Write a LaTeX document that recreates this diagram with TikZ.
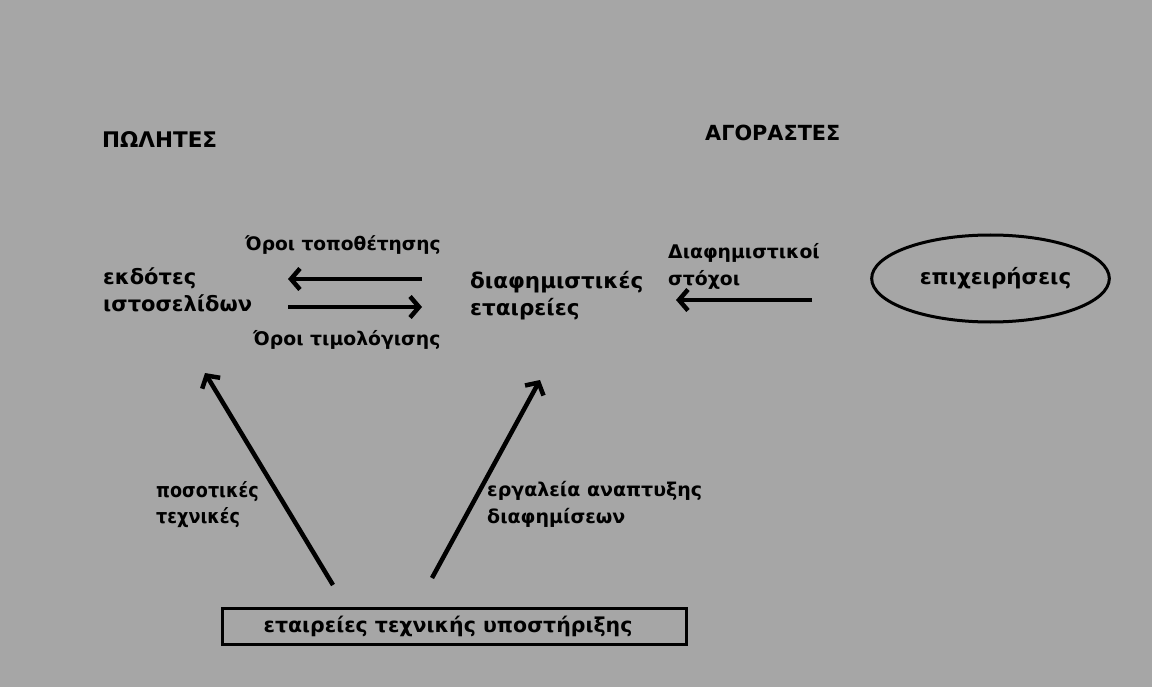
\documentclass[tikz,border=0pt]{standalone}
\usepackage{fontspec}
\setmainfont{DejaVu Sans}
\newfontfamily\narrowfont{DejaVu Sans}[FakeStretch=0.88]
\usetikzlibrary{arrows.meta,shapes.geometric}
\definecolor{bggray}{HTML}{A6A6A6}
\tikzset{
  >={Straight Barb[length=9pt,width=21pt]},
  txt/.style={font=\fontsize{#1}{27}\selectfont\bfseries},
  txt/.default=20,
  lbl/.style={txt=#1,anchor=west,align=left,inner sep=0pt},
  lbl/.default=20,
  narrow/.style={anchor=west,align=left,inner sep=0pt,font=\fontsize{20}{26}\narrowfont\bfseries},
  arr/.style={->,line width=4.5pt}
}

\begin{document}
\begin{tikzpicture}[x=1pt,y=-1pt]
      \fill[bggray] (0,0) rectangle (1152,687);
      % headings
      \node[lbl=21.5] (sell) at (102,140) {ΠΩΛΗΤΕΣ};
      \node[lbl=20.8] (buy) at (705,133) {ΑΓΟΡΑΣΤΕΣ};
      % upper row
      \node[lbl=21] (pub) at (103,290) {εκδότες\\ιστοσελίδων};
      \node[lbl=21.5] (adv) at (470,296) {διαφημιστικές\\εταιρείες};
      \node[lbl=18.6] (place) at (245,245) {Όροι τοποθέτησης};
      \node[lbl=18.8] (price) at (253,340) {Όροι τιμολόγισης};
      \node[lbl=18.8] (goal) at (668,266) {Διαφημιστικοί\\στόχοι};
      \node[txt=21.4,draw,ellipse,line width=3pt,minimum width=237pt,minimum height=87pt] (firms) at (990.5,278.5) {\hspace*{10pt}επιχειρήσεις};
      % lower part
      \node[txt=20.5,draw,line width=3pt,minimum width=464pt,minimum height=36pt,inner sep=0pt] (tech) at (454,626) {εταιρείες τεχνικής υποστήριξης\hspace*{12pt}};
      \node[narrow] (quant) at (156,505) {ποσοτικές\\τεχνικές};
      \node[lbl=19] (tools) at (487,504) {εργαλεία αναπτυξης\\διαφημίσεων};
      % arrow ends
      \coordinate (p1) at (288,279);
      \coordinate (a1) at (422,279);
      \coordinate (p2) at (288,307);
      \coordinate (a2) at (422,307);
      \coordinate (g1) at (676,300);
      \coordinate (f1) at (812,300);
      \coordinate (t1) at (333,585);
      \coordinate (p3) at (205,373);
      \coordinate (t2) at (432,578);
      \coordinate (a3) at (540,380);
      \draw[arr] (a1) -- (p1);
      \draw[arr] (p2) -- (a2);
      \draw[arr] (f1) -- (g1);
      \draw[arr] (t1) -- (p3);
      \draw[arr] (t2) -- (a3);
    \end{tikzpicture}
\end{document}
